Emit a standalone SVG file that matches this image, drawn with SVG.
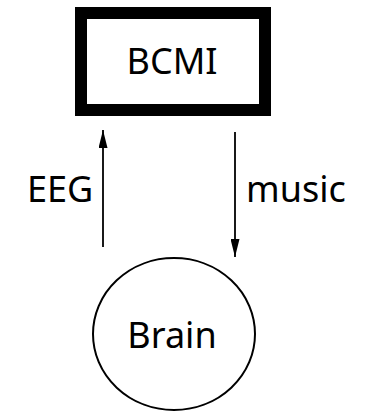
<svg xmlns="http://www.w3.org/2000/svg" width="368" height="414" viewBox="0 0 368 414">
<defs>
<style>
text{font-family:"Noto Sans","Open Sans","DejaVu Sans",sans-serif;font-size:36px;fill:#000}
.c{stroke:#000;stroke-width:1.8;fill:none}
</style>
<marker id="ah" viewBox="0 0 20 10" refX="20" refY="5" markerWidth="20" markerHeight="9" markerUnits="userSpaceOnUse" orient="auto">
<path d="M0,0 L20,5 L0,10 Z" fill="#000"/>
</marker>
</defs>
<rect width="368" height="414" fill="#fff"/>
<g id="bcmi">
<rect x="81" y="13" width="184" height="97" fill="#fff" stroke="#000" stroke-width="12"/>
<text x="172" y="74" text-anchor="middle">BCMI</text>
</g>
<g id="brain">
<ellipse cx="174" cy="334" rx="81" ry="76" fill="#fff" stroke="#000" stroke-width="2"/>
<text x="172" y="348" text-anchor="middle">Brain</text>
</g>
<g id="connectors">
<line class="c" x1="103" y1="247" x2="103" y2="130" marker-end="url(#ah)"/>
<text x="27" y="202">EEG</text>
<line class="c" x1="235" y1="132" x2="235" y2="257" marker-end="url(#ah)"/>
<text x="246" y="202">music</text>
</g>
</svg>
